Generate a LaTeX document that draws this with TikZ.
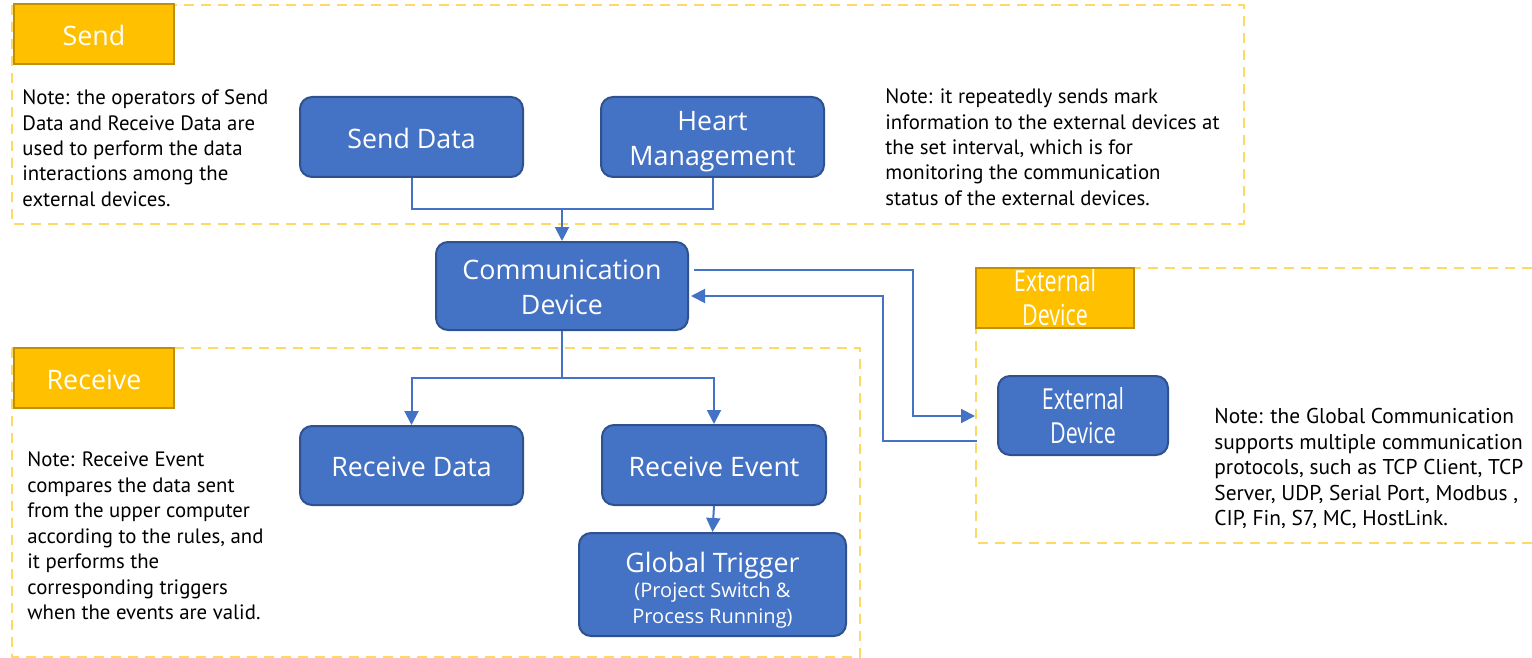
\documentclass[tikz,border=0pt]{standalone}
\usepackage{fontspec}
\setmainfont{PT Sans}
\newfontfamily\boxfont{Open Sans}
\newfontfamily\narrowfont{Open Sans}[FakeStretch=0.74]
\usetikzlibrary{arrows.meta}

\definecolor{blockblue}{HTML}{4472C4}
\definecolor{blockedge}{HTML}{2F528F}
\definecolor{tabgold}{HTML}{FFC000}
\definecolor{tabedge}{HTML}{BF9000}
\definecolor{groupdash}{HTML}{FFD966}

% line strut for the block captions (fills one baseline step)
\newcommand\bstrut{\rule[-3.2pt]{0pt}{17.5pt}}

\tikzset{
  block/.style={rounded corners=6pt, fill=blockblue, draw=blockedge, line width=1pt,
    text=white, align=center, inner sep=0pt,
    font=\boxfont\fontsize{13.4}{17.5}\selectfont},
  tab/.style={fill=tabgold, draw=tabedge, line width=1pt, text=white, align=center,
    inner sep=0pt, minimum width=80pt, minimum height=30pt,
    font=\boxfont\fontsize{13.4}{17.5}\selectfont},
  narrowtext/.style={font=\narrowfont\fontsize{14.5}{17}\selectfont},
  group/.style={draw=groupdash, line width=1pt, dash pattern=on 5pt off 3.5pt},
  note/.style={anchor=north west, align=left, inner sep=0pt,
    font=\fontsize{10.4}{12.7}\selectfont},
  link/.style={draw=blockblue, line width=1pt},
  flow/.style={link, -{Triangle[length=7pt,width=7pt]}},
}

\begin{document}
\begin{tikzpicture}[x=0.5pt,y=-0.5pt]
\useasboundingbox (0,0) rectangle (1532,658);

% dashed group frames
\draw[group] (12,5) rectangle (1244,224);
\draw[group] (12,348) rectangle (860,657);
\draw[group] (1532,268) -- (976,268) -- (976,543) -- (1532,543);

% group tabs
\node[tab] (sendtab) at (94,34.5) {\bstrut Send};
\node[tab] (recvtab) at (94,378) {\bstrut Receive};
\node[tab, minimum width=79pt, narrowtext] (exttab) at (1055,298) {External\\Device};

% blocks
\node[block, minimum width=111.5pt, minimum height=40pt] (sd) at (411.5,137) {\bstrut Send Data};
\node[block, minimum width=111.5pt, minimum height=40pt] (hm) at (712.5,137)
  {\bstrut Heart\\\bstrut Management};
\node[block, minimum width=126pt, minimum height=44pt] (cd) at (562,286)
  {\bstrut Communication\\\bstrut Device};
\node[block, minimum width=111.5pt, minimum height=39.5pt] (rd) at (411.5,465.5) {\bstrut Receive Data};
\node[block, minimum width=112pt, minimum height=40pt] (re) at (714,465) {\bstrut Receive Event};
\node[block, minimum width=133.5pt, minimum height=51.5pt] (gt) at (712.5,584.5)
  {\rule{0pt}{16pt}Global Trigger\\[-5pt]{\fontsize{10}{12.5}\selectfont (Project Switch \&}\\[-4.5pt]{\fontsize{10}{12.5}\selectfont Process Running)}};
\node[block, minimum width=85pt, minimum height=39.5pt, narrowtext] (ed) at (1083,415.5)
  {External\\Device};

% notes
\node[note] (sendnote) at (22,89.5) {Note: the operators of Send\\Data and Receive Data are\\used to perform the data\\interactions among the\\external devices.};
\node[note] (heartnote) at (885,88.5) {Note: it repeatedly sends mark\\information to the external devices at\\the set interval, which is for\\monitoring the communication\\status of the external devices.};
\node[note, font=\fontsize{10.4}{12.75}\selectfont] (recvnote) at (27,451.5) {Note: Receive Event\\compares the data sent\\from the upper computer\\according to the rules, and\\it performs the\\corresponding triggers\\when the events are valid.};
\node[note, font=\fontsize{10.7}{12.75}\selectfont] (extnote) at (1214,408) {Note: the Global Communication\\supports multiple communication\\protocols, such as TCP Client, TCP\\Server, UDP, Serial Port, Modbus ,\\CIP, Fin, S7, MC, HostLink.};

% junctions and free ends
\coordinate (sendjoin) at (562,209);
\coordinate (recvsplit) at (562,378);
\coordinate (outturn) at (913,416);
\coordinate (outend) at (975,416);
\coordinate (backstart) at (977,441);
\coordinate (backturn) at (883,441);

% connectors
\draw[link] (sd.south) |- (sendjoin) -| (hm.south);
\draw[flow] (sendjoin) -- (cd.north);
\draw[link] (cd.south) -- (recvsplit);
\draw[flow] (recvsplit) -| (rd.north);
\draw[flow] (recvsplit) -| (re.north);
\draw[flow] (re.south) -- (gt.north);
\draw[flow] ([xshift=2.5pt,yshift=8pt]cd.east) -| (outturn) -- (outend);
\draw[flow] (backstart) -- (backturn) |- ([xshift=1pt,yshift=-5pt]cd.east);
\end{tikzpicture}
\end{document}
